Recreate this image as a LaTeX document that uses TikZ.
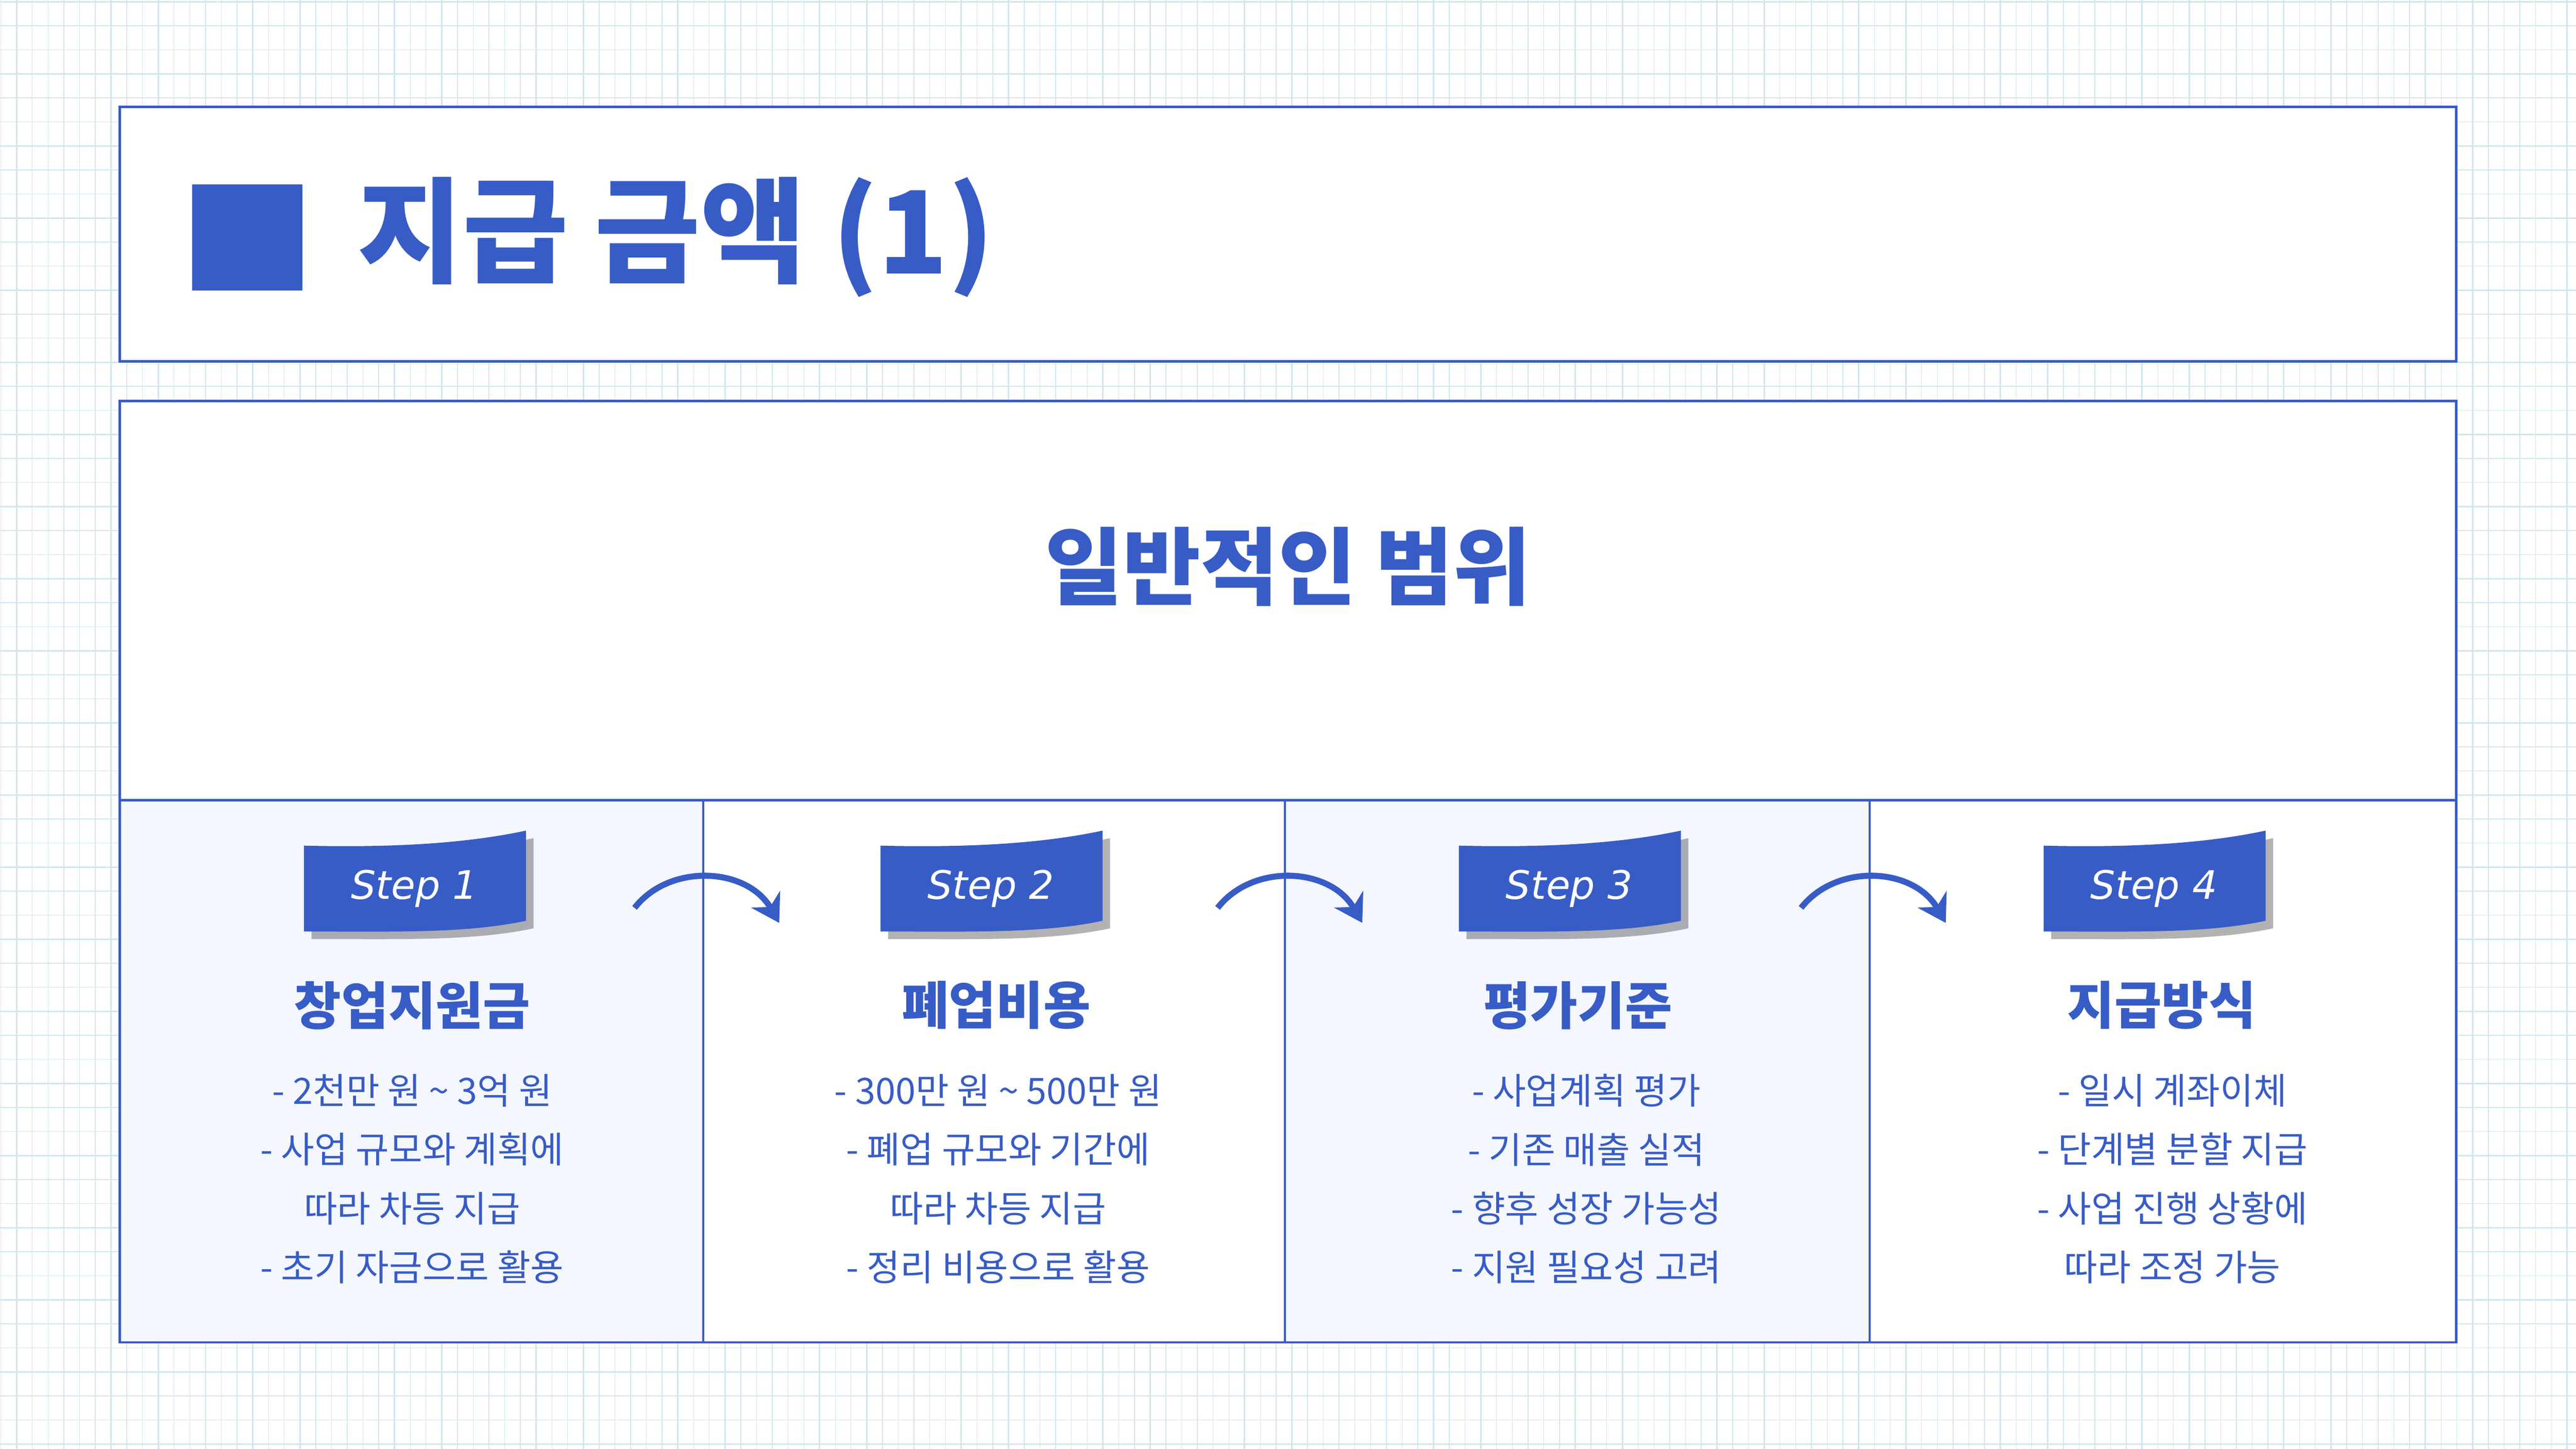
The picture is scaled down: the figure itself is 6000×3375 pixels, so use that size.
\documentclass[tikz,border=0pt]{standalone}
\usepackage{fontspec}
\setmainfont{Noto Sans CJK KR}
\newfontfamily\stepfont{DejaVu Sans}
\usetikzlibrary{shadows,arrows.meta}
\definecolor{mainblue}{HTML}{385CC6}
\definecolor{gridc}{HTML}{D3E6EE}
\definecolor{panel}{HTML}{F4F7FE}
\tikzset{
  px/.style={x=0.01cm,y=-0.01cm},
  bullet/.style={text=mainblue,align=center,font=\fontsize{24}{39}\selectfont,anchor=north},
  colhead/.style={text=mainblue,font=\fontsize{34}{40}\selectfont\bfseries},
  steptxt/.style={text=white,font=\fontsize{26}{30}\selectfont\stepfont\itshape},
  flowarrow/.style={draw=mainblue,line width=4pt,-{Stealth[length=18pt,width=22pt]}},
}
\newcommand{\stepbadge}[3]{%
  \fill[mainblue,drop shadow={shadow xshift=5pt,shadow yshift=-5pt,opacity=0.3,fill=black}]
    (#1-257,#2-100) .. controls (#1-50,#2-95) and (#1+120,#2-105) .. (#1+260,#2-135)
    -- (#1+260,#2+75) .. controls (#1+120,#2+105) and (#1-50,#2+100) .. (#1-257,#2+100) -- cycle;
  \node[steptxt] (s#3) at (#1,#2) {Step #3};}
\begin{document}
\begin{tikzpicture}[px]
\useasboundingbox (0,0) rectangle (6000,3375);
\fill[white] (0,0) rectangle (6000,3375);
\foreach \i in {0,...,163} {\pgfmathsetmacro\xx{2+36.67*\i}
  \pgfmathtruncatemacro\m{mod(\i,3)}
  \ifnum\m=1 \draw[gridc,line width=0.9pt] (\xx,0)--(\xx,3375); \else \draw[gridc,line width=0.45pt] (\xx,0)--(\xx,3375);\fi}
\foreach \j in {0,...,60} {\pgfmathsetmacro\yy{4+56*\j}
  \pgfmathtruncatemacro\m{mod(\j,3)}
  \ifnum\m=0 \draw[gridc,line width=0.9pt] (0,\yy)--(6000,\yy); \else \draw[gridc,line width=0.45pt] (0,\yy)--(6000,\yy);\fi}
% title box
\draw[mainblue,fill=white,line width=1.6pt] (279,249) rectangle (5721,842);
\fill[mainblue] (448,429) rectangle (704,677);
\node[anchor=west,text=mainblue,font=\fontsize{76}{86}\selectfont\bfseries] (title) at (820,553) {지급 금액 (1)};
% main box
\fill[white] (279,934) rectangle (5721,3127);
\fill[panel] (279,1864) rectangle (1638,3127);
\fill[panel] (2993,1864) rectangle (4355,3127);
\draw[mainblue,line width=1.5pt] (279,934) rectangle (5721,3127);
\draw[mainblue,line width=1.5pt] (279,1864)--(5721,1864);
\foreach \x in {1638,2993,4355} \draw[mainblue,line width=1.5pt] (\x,1864)--(\x,3127);
\node[text=mainblue,font=\fontsize{56}{66}\selectfont\bfseries] (head) at (3000,1320) {일반적인 범위};
% badges
\stepbadge{965}{2070}{1}
\stepbadge{2308}{2070}{2}
\stepbadge{3655}{2070}{3}
\stepbadge{5017}{2070}{4}
% arrows
\foreach \dx [count=\k] in {0,1358,2717} {
  \coordinate (a\k) at (1478+\dx,2115);
  \coordinate (b\k) at (1815+\dx,2150);
  \draw[flowarrow] (a\k) .. controls (1560+\dx,2010) and (1740+\dx,2020) .. (b\k);}
% column headings
\node[colhead] (h1) at (960,2342) {창업지원금};
\node[colhead] (h2) at (2320,2342) {폐업비용};
\node[colhead] (h3) at (3675,2342) {평가기준};
\node[colhead] (h4) at (5035,2342) {지급방식};
\node[bullet] (t1) at (960,2490) {- 2천만 원 \textasciitilde{} 3억 원\\- 사업 규모와 계획에\\따라 차등 지급\\- 초기 자금으로 활용};
\node[bullet] (t2) at (2325,2490) {- 300만 원 \textasciitilde{} 500만 원\\- 폐업 규모와 기간에\\따라 차등 지급\\- 정리 비용으로 활용};
\node[bullet] (t3) at (3695,2490) {- 사업계획 평가\\- 기존 매출 실적\\- 향후 성장 가능성\\- 지원 필요성 고려};
\node[bullet] (t4) at (5060,2490) {- 일시 계좌이체\\- 단계별 분할 지급\\- 사업 진행 상황에\\따라 조정 가능};
\end{tikzpicture}
\end{document}
